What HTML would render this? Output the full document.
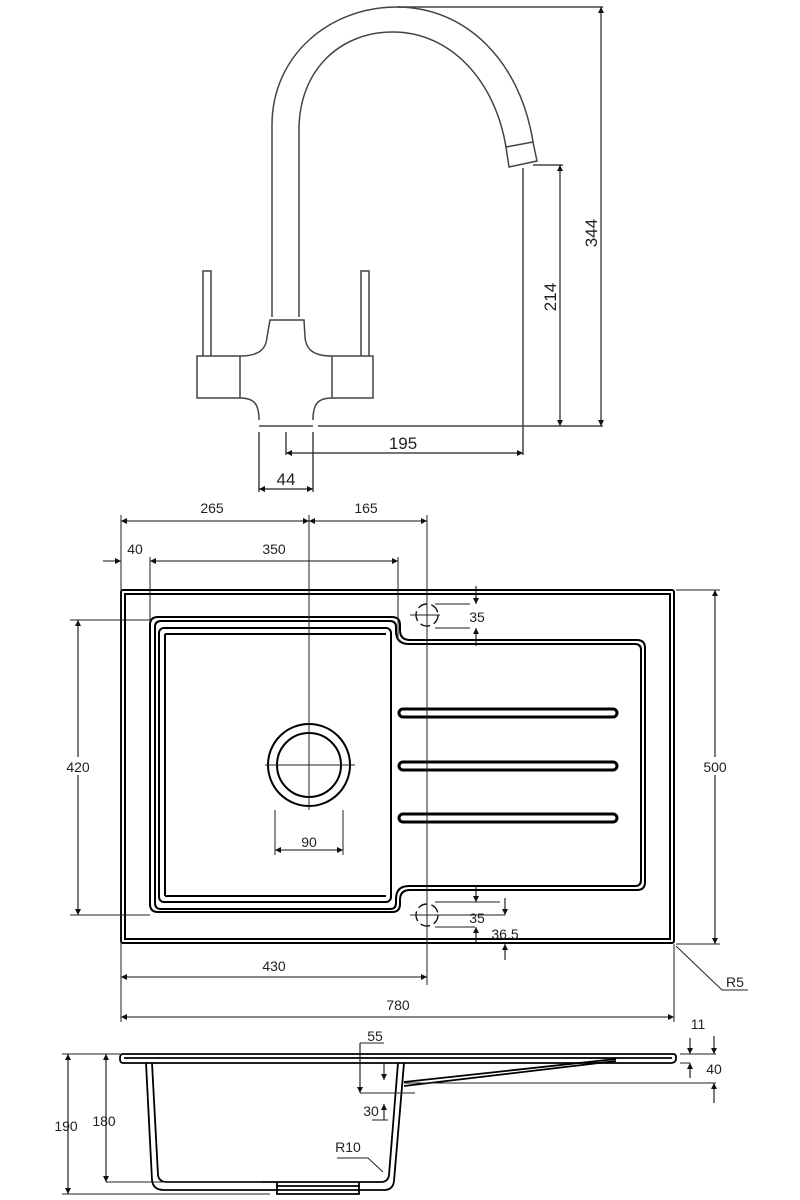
<!DOCTYPE html>
<html><head><meta charset="utf-8"><style>
html,body{margin:0;padding:0;background:#fff}
svg{display:block}
text{font-family:"Liberation Sans",sans-serif;fill:#222}
</style></head><body>
<svg width="800" height="1200" viewBox="0 0 800 1200" xmlns="http://www.w3.org/2000/svg">
<defs>
<marker id="a" viewBox="0 0 10 10" refX="10" refY="5" markerWidth="10" markerHeight="6" orient="auto-start-reverse" markerUnits="userSpaceOnUse"><path d="M0,0 L10,5 L0,10 z" fill="#111"/></marker>
</defs>
<g fill="none" stroke="#444" stroke-width="1.5">
<!-- TAP -->
<path d="M272,317 V125 C272,55 330,7 397,7 C465,7 520,60 533,142"/>
<path d="M299,317 V130 C299,70 340,32 393,32 C450,32 495,80 506,147"/>
<path d="M506,147 L533,142 L537,161 L509,167 Z"/>
<path d="M267,337 L270,320 H304 L305,337"/>
<path d="M267,337 C266,350 258,356 240,356 H197 V398 H240 C255,398 259,405 259,420"/>
<path d="M305,337 C306,350 314,356 332,356 H373 V398 H332 C317,398 313,405 313,420"/>
<path d="M240,356 V398 M332,356 V398"/>
<path d="M203,356 V271 H211 V356 M361,356 V271 H369 V356"/>
<path d="M259,426 H313 M318,426 H603 M397,7 H603 M533,165 H563"/>
<path d="M523,168 V455 M286,432 V455 M259,432 V492 M313,432 V492"/>
</g>
<g stroke="#222" stroke-width="1.2" fill="none" marker-start="url(#a)" marker-end="url(#a)">
<line x1="560" y1="165" x2="560" y2="426"/>
<line x1="601" y1="7" x2="601" y2="426"/>
<line x1="286" y1="453" x2="523" y2="453"/>
<line x1="259" y1="489" x2="313" y2="489"/>
</g>
<text x="403" y="449" font-size="17" text-anchor="middle">195</text>
<text x="286" y="485" font-size="17" text-anchor="middle">44</text>
<text transform="translate(556,297) rotate(-90)" font-size="17" text-anchor="middle">214</text>
<text transform="translate(597,233) rotate(-90)" font-size="17" text-anchor="middle">344</text>

<!-- SINK TOP -->
<g fill="none" stroke="#000" stroke-width="2">
<rect x="121" y="590" width="553" height="353" rx="2"/>
<rect x="125" y="594" width="545" height="345"/>
<path d="M158,617 H392 q8,0 8,8 v5 q0,10 10,10 H637 q8,0 8,8 V882 q0,8 -8,8 H410 q-10,0 -10,10 v4 q0,8 -8,8 H158 q-8,0 -8,-8 V625 q0,-8 8,-8Z"/>
<path d="M161,621 H390 q6,0 6,6 v4 q0,13 13,13 H635 q6,0 6,6 V880 q0,6 -6,6 H409 q-13,0 -13,13 v4 q0,6 -6,6 H161 q-6,0 -6,-6 V627 q0,-6 6,-6Z"/>
<rect x="159" y="628" width="232" height="274" rx="5"/>
<path d="M165,634 H386 M165,896 H386 M165,634 V896"/>
<circle cx="309" cy="765" r="41"/>
<circle cx="309" cy="765" r="32"/>
</g>
<g fill="none" stroke="#000" stroke-width="3">
<rect x="399" y="709" width="218" height="8" rx="4"/>
<rect x="399" y="762" width="218" height="8" rx="4"/>
<rect x="399" y="814" width="218" height="8" rx="4"/>
</g>
<g fill="none" stroke="#111" stroke-width="1.4">
<circle cx="427" cy="615" r="11" stroke-dasharray="10,4"/>
<circle cx="427" cy="915" r="11" stroke-dasharray="10,4"/>
</g>
<g fill="none" stroke="#222" stroke-width="1">
<path d="M121,515 V1022 M309,515 V810 M427,515 V985 M150,557 V620 M398,557 V640 M674,944 V1022"/>
<path d="M265,765 H355 M410,615 H440 M410,915 H505"/>
<path d="M70,620 H150 M70,915 H150 M676,590 H720 M676,944 H720"/>
<path d="M435,604 H470 M435,628 H470 M435,902 H500 M435,927 H475"/>
<path d="M275,810 V855 M343,810 V855"/>
<path d="M676,946 L722,990 H748"/>
</g>
<g stroke="#111" stroke-width="1.1" fill="none" marker-end="url(#a)">
<line x1="121" y1="521" x2="309" y2="521" marker-start="url(#a)"/>
<line x1="309" y1="521" x2="427" y2="521" marker-start="url(#a)"/>
<line x1="150" y1="561" x2="398" y2="561" marker-start="url(#a)"/>
<line x1="103" y1="561" x2="121" y2="561"/>
<line x1="78" y1="620" x2="78" y2="915" marker-start="url(#a)"/>
<line x1="715" y1="590" x2="715" y2="944" marker-start="url(#a)"/>
<line x1="121" y1="977" x2="427" y2="977" marker-start="url(#a)"/>
<line x1="121" y1="1017" x2="674" y2="1017" marker-start="url(#a)"/>
<line x1="275" y1="850" x2="343" y2="850" marker-start="url(#a)"/>
<line x1="476" y1="586" x2="476" y2="604"/>
<line x1="476" y1="646" x2="476" y2="628"/>
<line x1="476" y1="886" x2="476" y2="902"/>
<line x1="476" y1="943" x2="476" y2="927"/>
<line x1="505" y1="898" x2="505" y2="915"/>
<line x1="505" y1="960" x2="505" y2="944"/>
</g>
<g font-size="14" text-anchor="middle">
<rect x="60" y="757" width="36" height="18" fill="#fff"/>
<text x="78" y="772">420</text>
<rect x="697" y="757" width="36" height="18" fill="#fff"/>
<text x="715" y="772">500</text>
<text x="212" y="513">265</text>
<text x="366" y="513">165</text>
<text x="135" y="554">40</text>
<text x="274" y="554">350</text>
<text x="309" y="847">90</text>
<text x="477" y="622">35</text>
<text x="477" y="923">35</text>
<text x="505" y="939">36.5</text>
<text x="274" y="971">430</text>
<text x="398" y="1010">780</text>
<text x="735" y="987">R5</text>

<!-- SIDE -->
<text x="66" y="1131">190</text>
<text x="104" y="1126">180</text>
<text x="375" y="1041">55</text>
<text x="371" y="1116">30</text>
<text x="698" y="1029">11</text>
<text x="714" y="1074">40</text>
<text x="348" y="1152">R10</text>
</g>
<g fill="none" stroke="#000" stroke-width="1.8">
<path d="M123,1054 H673 q3,0 3,3 v2 q0,3 -4,4 H123 q-3,0 -3,-4 v-1 q0,-4 3,-4Z"/>
<path d="M124,1058 H672"/>
<path d="M146,1063 L152,1180 q1,10 12,10 H384 q9,0 10,-9 L404,1063"/>
<path d="M152,1063 L158,1175 q1,7 9,7 H381 q7,0 8,-7 L398,1063"/>
<path d="M277,1182 V1194 H359 V1182 M277,1186 H359"/>
<path d="M404,1082 L616,1059 M404,1086 L616,1061"/>
</g>
<g fill="none" stroke="#222" stroke-width="1">
<path d="M62,1054 H120 M62,1194 H270 M106,1182 H262 M360,1043 H384 M360,1093 H415 M372,1120 H388"/>
<path d="M680,1054 H716 M680,1063 H690 M404,1083 H716"/>
<path d="M337,1158 H368 L383,1172"/>
</g>
<g stroke="#111" stroke-width="1.1" fill="none" marker-end="url(#a)">
<line x1="68" y1="1054" x2="68" y2="1194" marker-start="url(#a)"/>
<line x1="106" y1="1054" x2="106" y2="1182" marker-start="url(#a)"/>
<line x1="360" y1="1043" x2="360" y2="1093"/>
<line x1="384" y1="1063" x2="384" y2="1080"/>
<line x1="384" y1="1120" x2="384" y2="1104"/>
<line x1="690" y1="1038" x2="690" y2="1054"/>
<line x1="690" y1="1078" x2="690" y2="1063"/>
<line x1="714" y1="1036" x2="714" y2="1054"/>
<line x1="714" y1="1103" x2="714" y2="1083"/>
</g>
</svg>
</body></html>
